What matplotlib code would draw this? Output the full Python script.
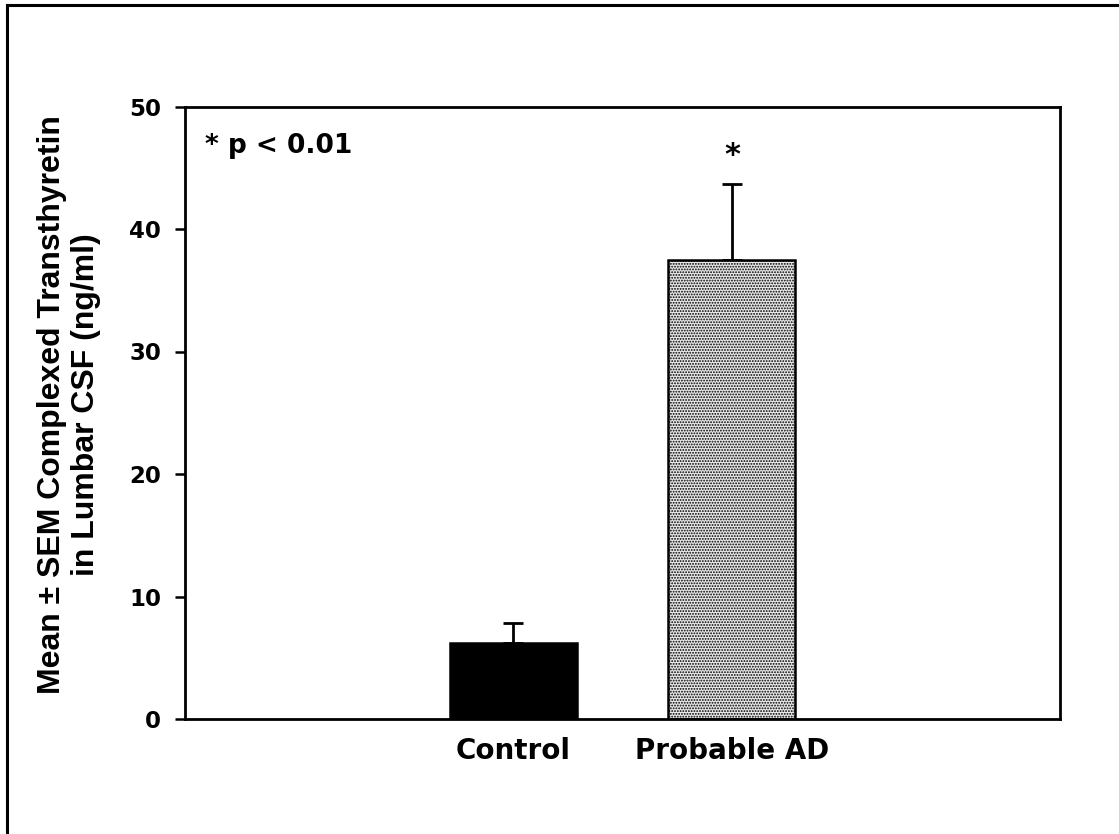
import numpy as np
import matplotlib
matplotlib.use("Agg")
import matplotlib.pyplot as plt
from matplotlib.lines import Line2D

# data
groups = ["Control", "Probable AD"]
means = [6.2, 37.5]
sem_upper = [1.6, 6.2]
y_ticks = [0, 10, 20, 30, 40, 50]

plt.rcParams['hatch.linewidth'] = 0.9

fig = plt.figure(figsize=(11.19, 8.34), dpi=100)
W, H = 1119, 834
ax = fig.add_axes([185 / W, 1 - 719 / H, (1060 - 185) / W, (719 - 106.5) / H])

x = np.arange(len(groups))
bars = ax.bar(x, means, width=0.58, color=["black", "#e8e8e8"],
              edgecolor="black", linewidth=1.8, zorder=2)
bars[1].set_hatch("......")

ax.errorbar(x, means, yerr=[np.zeros(len(means)), sem_upper], fmt="none",
            ecolor="black", elinewidth=2.0, capsize=7.5, capthick=2.0, zorder=1)

ax.set_xlim(-1.5, 2.5)
ax.set_ylim(0, 50)
ax.set_yticks(y_ticks)
ax.set_xticks(x)
ax.set_xticklabels(groups, fontsize=20, fontweight="bold", family="DejaVu Sans")
ax.tick_params(axis="x", length=0, pad=13)
ax.tick_params(axis="y", direction="out", length=7.2, width=1.8, pad=10,
               labelsize=16.5)
for lab in ax.get_yticklabels():
    lab.set_fontweight("bold")
    lab.set_family("DejaVu Sans")
for sp in ax.spines.values():
    sp.set_linewidth(2.0)

ax.text(0.023, 0.935, "* p < 0.01", transform=ax.transAxes, fontsize=19,
        fontweight="bold", family="DejaVu Sans", ha="left", va="center")
ax.text(1, means[1] + sem_upper[1] + 2.3, "*", fontsize=22, fontweight="bold",
        family="DejaVu Sans", ha="center", va="center")

fig.text(69 / W, 1 - 405 / H,
         "Mean \u00b1 SEM Complexed Transthyretin\nin Lumbar CSF (ng/ml)",
         rotation=90, ha="center", va="center", multialignment="center",
         fontsize=23, fontweight="bold", family="Liberation Sans",
         linespacing=1.2)

# outer frame (only left and top edges visible in the crop)
fig.add_artist(Line2D([7 / W, 7 / W], [0, 1 - 5 / H], transform=fig.transFigure,
                      color="black", linewidth=2.2))
fig.add_artist(Line2D([7 / W, 1], [1 - 5 / H, 1 - 5 / H], transform=fig.transFigure,
                      color="black", linewidth=2.2))

fig.savefig("out.png", dpi=100)
